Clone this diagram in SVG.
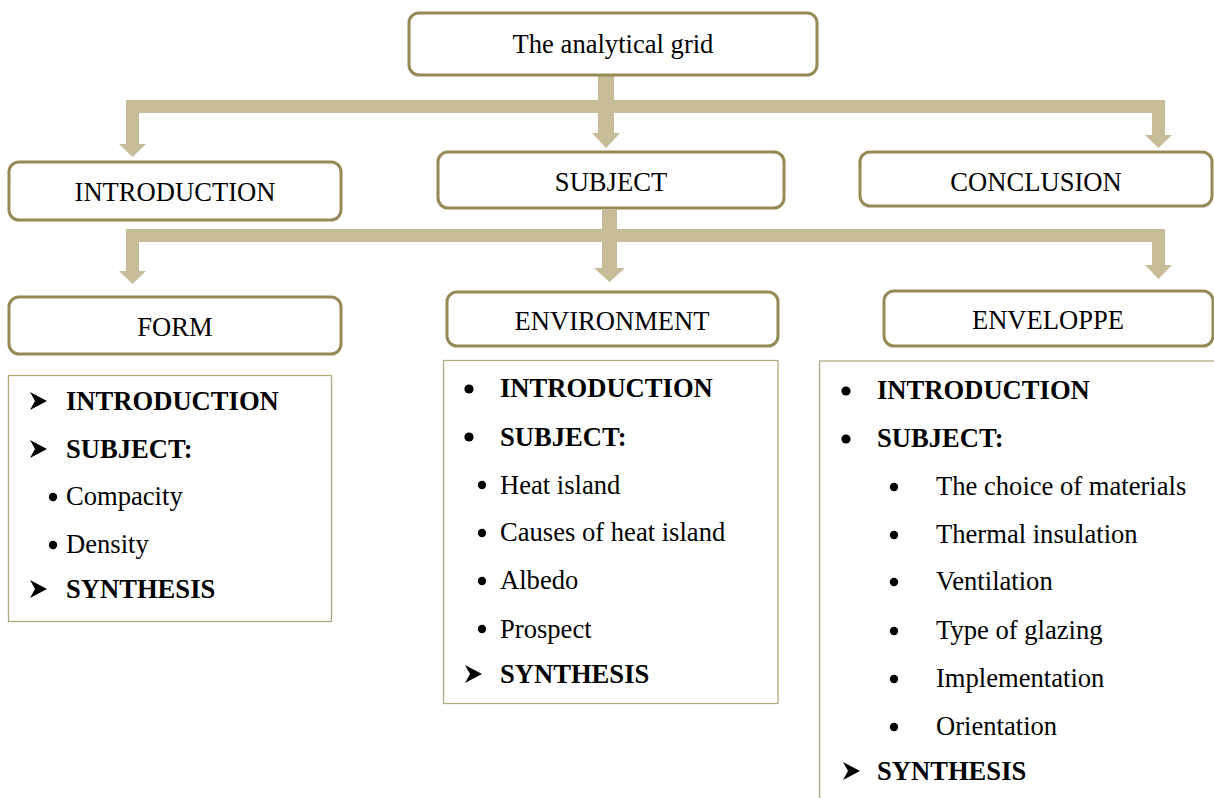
<svg xmlns="http://www.w3.org/2000/svg" width="1214" height="798" viewBox="0 0 1214 798">
  <style>
    .box { fill: #ffffff; stroke: #958a55; stroke-width: 3; }
    .list { fill: #ffffff; stroke: #b3a97e; stroke-width: 1.3; }
    .flow { fill: #c6bc98; }
    text { font-family: "Liberation Serif", "Times New Roman", serif; font-size: 26.6px; fill: #000000; }
    .c { text-anchor: middle; }
    .b { font-weight: bold; }
  </style>
  <defs>
    <!-- arrowhead bullet -->
    <path id="dart" d="M0,-9 L17,0 L0,9 L5,0 Z" fill="#000000"/>
    <circle id="bigdot" r="4.6" fill="#000000"/>
    <circle id="smalldot" r="4.2" fill="#000000"/>
  </defs>

  <!-- connectors -->
  <g id="connectors" class="flow">
    <!-- level 1 -->
    <rect x="126" y="100" width="1039" height="13"/>
    <rect x="126" y="100" width="13" height="45"/>
    <polygon points="119,144 146,144 132.5,157"/>
    <rect x="598" y="76" width="16" height="58"/>
    <polygon points="592,133 620,133 606,148"/>
    <rect x="1152" y="100" width="13" height="36"/>
    <polygon points="1145,135 1172,135 1158.5,148"/>
    <!-- level 2 -->
    <rect x="126" y="229" width="1039" height="13"/>
    <rect x="126" y="229" width="13" height="43"/>
    <polygon points="119,271 146,271 132.5,284"/>
    <rect x="602" y="210" width="15" height="59"/>
    <polygon points="594,268 625,268 609.5,282"/>
    <rect x="1152" y="229" width="13" height="37"/>
    <polygon points="1145,265 1172,265 1158.5,279"/>
  </g>

  <g id="grid">
    <rect class="box" x="409" y="13" width="408" height="62" rx="10"/>
    <text class="c" x="613" y="53">The analytical grid</text>
  </g>

  <g id="introduction">
    <rect class="box" x="9" y="162" width="332" height="58" rx="10"/>
    <text class="c" x="175" y="201">INTRODUCTION</text>
  </g>

  <g id="subject">
    <rect class="box" x="438" y="152" width="346" height="56" rx="10"/>
    <text class="c" x="611" y="191">SUBJECT</text>
  </g>

  <g id="conclusion">
    <rect class="box" x="860" y="152" width="352" height="54" rx="10"/>
    <text class="c" x="1036" y="191">CONCLUSION</text>
  </g>

  <g id="form">
    <rect class="box" x="9" y="297" width="332" height="57" rx="10"/>
    <text class="c" x="175" y="336">FORM</text>
  </g>

  <g id="environment">
    <rect class="box" x="447" y="292" width="331" height="54" rx="10"/>
    <text class="c" x="612" y="330">ENVIRONMENT</text>
  </g>

  <g id="enveloppe">
    <rect class="box" x="884" y="291" width="329" height="55" rx="10"/>
    <text class="c" x="1048" y="329">ENVELOPPE</text>
  </g>

  <g id="form-list">
    <rect class="list" x="8.5" y="375.5" width="323" height="246"/>
    <use href="#dart" x="30" y="401"/>
    <text class="b" x="66" y="410">INTRODUCTION</text>
    <use href="#dart" x="30" y="449"/>
    <text class="b" x="66" y="458">SUBJECT:</text>
    <use href="#smalldot" x="53" y="497"/>
    <text x="66" y="505">Compacity</text>
    <use href="#smalldot" x="53" y="545"/>
    <text x="66" y="553">Density</text>
    <use href="#dart" x="30" y="589"/>
    <text class="b" x="66" y="598">SYNTHESIS</text>
  </g>

  <g id="environment-list">
    <rect class="list" x="443.5" y="360.5" width="334.5" height="343"/>
    <use href="#bigdot" x="469" y="389"/>
    <text class="b" x="500" y="397">INTRODUCTION</text>
    <use href="#bigdot" x="469" y="437"/>
    <text class="b" x="500" y="446">SUBJECT:</text>
    <use href="#smalldot" x="482" y="485"/>
    <text x="500" y="494">Heat island</text>
    <use href="#smalldot" x="482" y="533"/>
    <text x="500" y="541">Causes of heat island</text>
    <use href="#smalldot" x="482" y="581"/>
    <text x="500" y="589">Albedo</text>
    <use href="#smalldot" x="482" y="629"/>
    <text x="500" y="638">Prospect</text>
    <use href="#dart" x="465" y="674"/>
    <text class="b" x="500" y="683">SYNTHESIS</text>
  </g>

  <g id="enveloppe-list">
    <rect class="list" x="819.5" y="361" width="400" height="450"/>
    <use href="#bigdot" x="846" y="391"/>
    <text class="b" x="877" y="399">INTRODUCTION</text>
    <use href="#bigdot" x="846" y="439"/>
    <text class="b" x="877" y="447">SUBJECT:</text>
    <use href="#smalldot" x="894" y="487"/>
    <text x="936" y="495">The choice of materials</text>
    <use href="#smalldot" x="894" y="535"/>
    <text x="936" y="543">Thermal insulation</text>
    <use href="#smalldot" x="894" y="582"/>
    <text x="936" y="590">Ventilation</text>
    <use href="#smalldot" x="894" y="631"/>
    <text x="936" y="639">Type of glazing</text>
    <use href="#smalldot" x="894" y="679"/>
    <text x="936" y="687">Implementation</text>
    <use href="#smalldot" x="894" y="727"/>
    <text x="936" y="735">Orientation</text>
    <use href="#dart" x="843" y="771"/>
    <text class="b" x="877" y="780">SYNTHESIS</text>
  </g>
</svg>
